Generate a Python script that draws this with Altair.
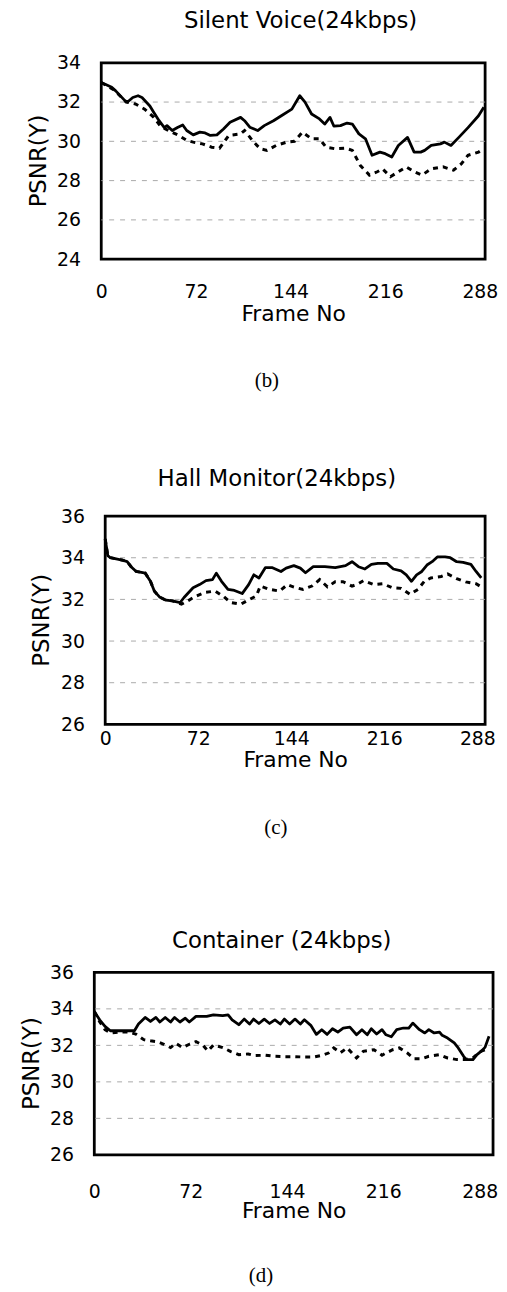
import altair as alt
import pandas as pd

FONT = "DejaVu Sans"
SERIF = "Liberation Serif"
XTICKS = [0, 72, 144, 216, 288]
XTITLE = "Frame No"
YTITLE = "PSNR(Y)"

# ---------------- Silent Voice ----------------
SV_TITLE = "Silent Voice(24kbps)"
SV_LABEL = "(b)"
SV_YTICKS = [24, 26, 28, 30, 32, 34]
SV_GRID = [26, 28, 30, 32]
SV_SOLID_F = [0, 8, 11, 18, 20, 24, 28, 31, 37, 40, 44, 48, 50, 54, 58, 62, 65, 70, 75, 79, 83, 88, 93, 98,
              106, 109, 113, 119, 124, 131, 137, 145, 151, 155, 160, 166, 170, 174, 177, 182, 187, 191, 196,
              201, 206, 212, 216, 221, 226, 233, 238, 243, 246, 251, 258, 261, 266, 272, 279, 287, 291]
SV_SOLID_V = [33.0, 32.75, 32.57, 32.07, 32.0, 32.23, 32.32, 32.23, 31.8, 31.47, 31.05, 30.7, 30.8, 30.55,
              30.7, 30.83, 30.55, 30.33, 30.47, 30.43, 30.3, 30.33, 30.63, 30.97, 31.22, 31.05, 30.72, 30.55,
              30.8, 31.05, 31.3, 31.64, 32.32, 32.0, 31.39, 31.14, 30.88, 31.22, 30.77, 30.8, 30.93, 30.88,
              30.38, 30.13, 29.29, 29.45, 29.37, 29.2, 29.79, 30.2, 29.45, 29.45, 29.54, 29.79, 29.87, 29.96,
              29.79, 30.2, 30.7, 31.3, 31.73]
SV_DOT_F = [0, 10, 19, 26, 33, 40, 45, 51, 59, 65, 70, 77, 84, 90, 97, 106, 109, 116, 121, 126, 133, 141,
            147, 153, 160, 166, 171, 178, 186, 191, 197, 204, 210, 214, 220, 226, 232, 238, 244, 251, 260,
            268, 274, 279, 287, 291]
SV_DOT_V = [33.0, 32.6, 32.0, 31.9, 31.64, 31.22, 30.77, 30.55, 30.3, 30.05, 29.96, 29.87, 29.7, 29.65,
            30.3, 30.38, 30.55, 29.96, 29.62, 29.54, 29.79, 29.96, 30.0, 30.47, 30.13, 30.13, 29.7, 29.62,
            29.65, 29.54, 28.78, 28.28, 28.45, 28.6, 28.2, 28.45, 28.7, 28.45, 28.28, 28.6, 28.7, 28.53,
            28.86, 29.29, 29.45, 29.62]

# ---------------- Hall Monitor ----------------
HM_TITLE = "Hall Monitor(24kbps)"
HM_LABEL = "(c)"
HM_YTICKS = [26, 28, 30, 32, 34, 36]
HM_GRID = [28, 30, 32, 34]
HM_SOLID_F = [0, 2, 4, 13, 17, 20, 24, 31, 35, 38, 42, 47, 52, 58, 61, 68, 73, 78, 83, 86, 90, 95, 100,
              106, 111, 115, 119, 124, 129, 136, 140, 146, 151, 155, 161, 170, 178, 186, 191, 196, 201, 206,
              211, 218, 223, 229, 233, 237, 241, 245, 249, 253, 257, 263, 267, 272, 277, 283, 287, 291]
HM_SOLID_V = [34.9, 34.1, 34.0, 33.89, 33.81, 33.57, 33.34, 33.26, 32.87, 32.4, 32.12, 31.96, 31.93, 31.85,
              32.09, 32.56, 32.71, 32.9, 32.95, 33.26, 32.87, 32.48, 32.43, 32.28, 32.71, 33.18, 33.03, 33.53,
              33.53, 33.34, 33.5, 33.62, 33.5, 33.28, 33.57, 33.57, 33.53, 33.62, 33.81, 33.57, 33.46, 33.68,
              33.73, 33.73, 33.46, 33.37, 33.18, 32.87, 33.18, 33.34, 33.65, 33.81, 34.04, 34.04, 34.0, 33.81,
              33.78, 33.68, 33.34, 33.03]
HM_DOT_F = [0, 2, 4, 13, 17, 20, 24, 31, 35, 38, 42, 47, 52, 56, 59, 64, 69, 77, 85, 92, 97, 105, 111, 117,
            120, 127, 135, 141, 146, 153, 160, 166, 172, 178, 184, 191, 195, 200, 208, 215, 222, 229, 236, 242,
            247, 252, 260, 265, 272, 279, 287, 290]
HM_DOT_V = [34.9, 34.1, 34.0, 33.89, 33.81, 33.57, 33.34, 33.26, 32.87, 32.4, 32.12, 31.96, 31.93, 31.85,
            31.77, 31.93, 32.12, 32.33, 32.4, 32.12, 31.85, 31.77, 31.98, 32.17, 32.64, 32.48, 32.4, 32.71,
            32.59, 32.48, 32.64, 32.95, 32.6, 32.85, 32.85, 32.64, 32.72, 32.9, 32.71, 32.75, 32.56, 32.53,
            32.24, 32.48, 32.87, 33.03, 33.1, 33.22, 33.0, 32.84, 32.75, 32.64]

# ---------------- Container ----------------
CT_TITLE = "Container (24kbps)"
CT_LABEL = "(d)"
CT_YTICKS = [26, 28, 30, 32, 34, 36]
CT_GRID = [28, 30, 32, 34]
CT_SOLID_F = [0, 4, 8, 12, 20, 30, 33, 38, 42, 46, 49, 53, 57, 60, 64, 68, 71, 76, 84, 89, 96, 100, 103,
              108, 112, 116, 119, 123, 127, 131, 135, 139, 142, 146, 150, 154, 157, 162, 166, 170, 174, 178,
              182, 186, 191, 196, 200, 204, 207, 211, 215, 218, 222, 226, 231, 235, 238, 243, 247, 250, 254,
              258, 260, 264, 269, 272, 276, 278, 283, 286, 289, 292, 295]
CT_SOLID_V = [33.86, 33.4, 33.04, 32.8, 32.8, 32.8, 33.17, 33.53, 33.31, 33.53, 33.28, 33.53, 33.28, 33.53,
              33.28, 33.49, 33.28, 33.59, 33.59, 33.67, 33.63, 33.67, 33.4, 33.13, 33.44, 33.17, 33.44, 33.2,
              33.44, 33.2, 33.4, 33.17, 33.44, 33.17, 33.44, 33.17, 33.4, 33.08, 32.6, 32.86, 32.6, 32.91,
              32.73, 32.95, 33.0, 32.58, 32.86, 32.58, 32.91, 32.62, 32.86, 32.58, 32.47, 32.86, 32.95, 32.95,
              33.22, 32.86, 32.68, 32.86, 32.68, 32.73, 32.55, 32.4, 32.13, 31.86, 31.4, 31.22, 31.22, 31.49,
              31.67, 31.89, 32.5]
CT_DOT_F = [0, 4, 8, 12, 19, 25, 31, 37, 42, 47, 52, 57, 61, 66, 71, 76, 81, 85, 89, 96, 102, 108, 115, 120,
            128, 135, 142, 150, 157, 164, 170, 175, 179, 184, 189, 196, 201, 209, 215, 218, 223, 228, 234, 239,
            245, 250, 258, 264, 271, 277, 283, 288, 294]
CT_DOT_V = [33.86, 33.3, 32.86, 32.68, 32.73, 32.73, 32.62, 32.31, 32.25, 32.2, 32.06, 31.88, 32.11, 31.88,
            32.06, 32.2, 32.02, 31.69, 32.02, 31.88, 31.66, 31.49, 31.53, 31.44, 31.46, 31.4, 31.38, 31.38,
            31.36, 31.36, 31.45, 31.58, 31.86, 31.6, 31.86, 31.31, 31.67, 31.76, 31.46, 31.58, 31.76, 31.86,
            31.58, 31.27, 31.27, 31.4, 31.49, 31.31, 31.22, 31.22, 31.31, 31.64, 31.82]


def txt(text, **kw):
    return alt.Chart(pd.DataFrame({"t": [text]})).mark_text(**kw)


def spacer(w):
    # empty, borderless cell that only shifts the panel to its right
    return txt("", fontSize=1).encode(text="t:N", x=alt.value(w / 2), y=alt.value(0)).properties(
        width=w, height=1, view=alt.ViewBackground(strokeOpacity=0, fillOpacity=0))


def panel(title, label, sf, sv, dfr, dv, yticks, grid, w, h, xmax, shift,
          title_x, title_gap, ytitle_x, xlab_pad, xtitle_pad, tag_x, tag_y, spacer_gap=None):
    xs = alt.Scale(domain=[0, xmax], nice=False, zero=False)
    ys = alt.Scale(domain=[yticks[0], yticks[-1]], nice=False, zero=False)
    xax = alt.Axis(values=XTICKS, title=XTITLE, grid=False, ticks=False, tickSize=0, domain=False,
                   labelPadding=xlab_pad, titlePadding=xtitle_pad, labelFontSize=19, titleFontSize=22,
                   labelFont=FONT, titleFont=FONT, titleFontWeight="normal", labelColor="black",
                   titleColor="black", labelFlush=False, labelBaseline="top")
    yax = alt.Axis(values=yticks, title=None, grid=False, ticks=False, tickSize=0, domain=False,
                   labelPadding=21, labelFontSize=19, labelFont=FONT, labelColor="black")
    x = alt.X("frame:Q", scale=xs, axis=xax)
    y = alt.Y("psnr:Q", scale=ys, axis=yax)

    gdf = pd.DataFrame({"psnr": grid})
    grid_layer = alt.Chart(gdf).mark_rule(color="#a0a0a0", strokeWidth=0.9, strokeDash=[5, 6]).encode(y=y)

    sdf = pd.DataFrame({"frame": sf, "psnr": sv})
    ddf = pd.DataFrame({"frame": dfr, "psnr": dv})
    dot_layer = alt.Chart(ddf).mark_line(color="black", strokeWidth=3, strokeDash=[5, 5],
                                         strokeCap="butt").encode(x=x, y=y)
    solid_layer = alt.Chart(sdf).mark_line(color="black", strokeWidth=2.8,
                                           strokeJoin="round").encode(x=x, y=y)

    title_layer = txt(title, font=FONT, fontSize=23, baseline="middle", align="center",
                      color="black").encode(text="t:N", x=alt.value(title_x), y=alt.value(-title_gap))
    ytitle_layer = txt(YTITLE, font=FONT, fontSize=23, baseline="middle", align="center", angle=270,
                       color="black").encode(text="t:N", x=alt.value(ytitle_x), y=alt.value(h / 2))
    tag_layer = txt(label, font=SERIF, fontSize=21, baseline="middle", align="center",
                    color="black").encode(text="t:N", x=alt.value(tag_x), y=alt.value(h + tag_y))
    layers = [grid_layer, dot_layer, solid_layer, title_layer, ytitle_layer, tag_layer]
    if spacer_gap:
        layers.append(txt(label, font=SERIF, fontSize=21, baseline="middle", align="center",
                          opacity=0).encode(text="t:N", x=alt.value(tag_x),
                                            y=alt.value(h + tag_y + spacer_gap)))
    body = alt.layer(*layers).properties(width=w, height=h)
    return alt.hconcat(spacer(shift), body, spacing=0)


p1 = panel(SV_TITLE, SV_LABEL, SV_SOLID_F, SV_SOLID_V, SV_DOT_F, SV_DOT_V, SV_YTICKS, SV_GRID,
           w=387, h=198, xmax=292, shift=18, title_x=201, title_gap=42, ytitle_x=-63,
           xlab_pad=24, xtitle_pad=2, tag_x=167, tag_y=123)
p2 = panel(HM_TITLE, HM_LABEL, HM_SOLID_F, HM_SOLID_V, HM_DOT_F, HM_DOT_V, HM_YTICKS, HM_GRID,
           w=383, h=210, xmax=294, shift=21, title_x=173, title_gap=37, ytitle_x=-64,
           xlab_pad=5, xtitle_pad=1, tag_x=172, tag_y=105, spacer_gap=14)
p3 = panel(CT_TITLE, CT_LABEL, CT_SOLID_F, CT_SOLID_V, CT_DOT_F, CT_DOT_V, CT_YTICKS, CT_GRID,
           w=402, h=184, xmax=298, shift=11, title_x=189, title_gap=32, ytitle_x=-63,
           xlab_pad=28, xtitle_pad=-1, tag_x=168, tag_y=122)

chart = alt.vconcat(p1, p2, p3, spacing=74).properties(
    padding={"left": 0, "top": -5, "right": -1, "bottom": -5},
    background="white",
).configure_view(stroke="black", strokeWidth=2.8)

chart.save("out.html", embed_options={"renderer": "svg", "actions": False})
